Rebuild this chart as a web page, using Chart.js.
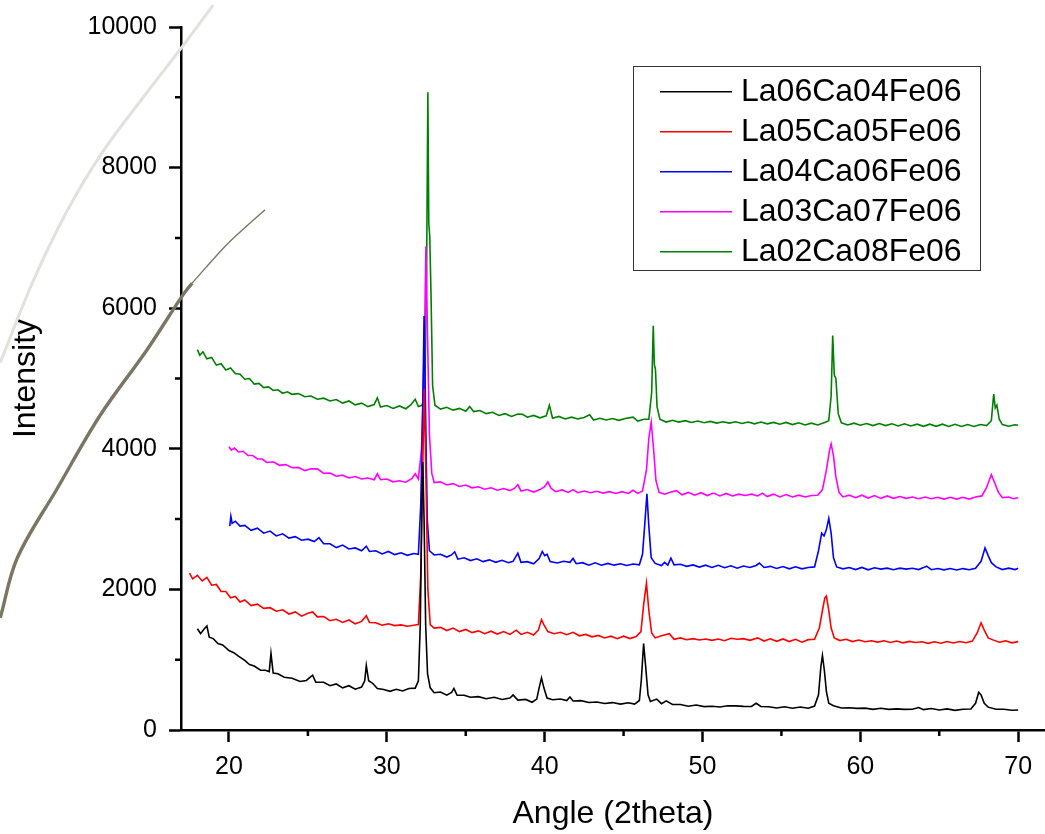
<!DOCTYPE html>
<html>
<head>
<meta charset="utf-8">
<title>XRD patterns</title>
<script src="https://cdn.jsdelivr.net/npm/chart.js@4.4.1/dist/chart.umd.min.js"></script>
<style>
    html, body { margin: 0; padding: 0; background: #fff; }
    canvas { display: block; }
</style>
</head>
<body>
<canvas id="xrdChart" width="1045" height="834"></canvas>
<script>
// sample names and colours, in legend order
const sampleNames = ['La06Ca04Fe06', 'La05Ca05Fe06', 'La04Ca06Fe06', 'La03Ca07Fe06', 'La02Ca08Fe06'];
const sampleColors = ['#000000', '#ff0000', '#0000ff', '#ff00ff', '#008000'];

// [2theta, intensity]
const la06 = [[18.0,1440],[18.2,1370],[18.4,1430],[18.6,1480],[18.75,1320],[19.0,1300],[19.3,1230],[19.6,1210],[20.0,1130],[20.3,1100],[20.6,1050],[21.0,990],[21.3,930],[21.6,910],[22.0,850],[22.3,850],[22.55,830],[22.66,1090],[22.8,810],[23.1,800],[23.5,750],[24.0,735],[24.5,690],[24.9,705],[25.3,780],[25.5,680],[26.0,680],[26.4,630],[26.8,655],[27.2,600],[27.6,630],[28.0,580],[28.4,610],[28.6,700],[28.7,918],[28.85,700],[29.1,665],[29.4,590],[29.8,575],[30.2,550],[30.6,580],[31.0,555],[31.4,590],[31.8,595],[32.0,700],[32.12,1500],[32.22,3200],[32.28,3812],[32.36,3000],[32.46,1500],[32.58,800],[32.75,600],[33.0,530],[33.4,540],[33.8,495],[34.1,535],[34.25,590],[34.45,495],[34.9,495],[35.3,465],[35.8,475],[36.3,445],[36.8,465],[37.3,435],[37.8,455],[38.0,500],[38.3,425],[38.8,435],[39.2,395],[39.5,440],[39.65,600],[39.8,740],[39.95,600],[40.15,455],[40.5,430],[41.0,440],[41.4,418],[41.6,470],[41.8,412],[42.3,418],[42.8,392],[43.3,398],[43.8,378],[44.3,390],[44.8,368],[45.3,388],[45.7,368],[46.0,420],[46.12,700],[46.27,1230],[46.4,900],[46.55,500],[46.7,405],[47.1,440],[47.4,375],[47.7,415],[48.1,362],[48.6,362],[49.1,338],[49.6,356],[50.1,333],[50.6,338],[51.1,328],[51.6,345],[52.1,343],[52.6,336],[53.1,334],[53.4,380],[53.7,334],[54.2,330],[54.7,313],[55.2,330],[55.7,310],[56.2,326],[56.7,310],[57.1,340],[57.35,500],[57.5,900],[57.6,1060],[57.72,850],[57.85,550],[58.0,380],[58.3,345],[58.8,314],[59.3,316],[59.8,308],[60.3,311],[60.8,294],[61.3,310],[61.8,294],[62.3,301],[62.8,294],[63.3,296],[63.7,320],[64.0,290],[64.5,305],[65.0,284],[65.5,300],[66.0,280],[66.5,296],[67.0,298],[67.3,380],[67.5,537],[67.65,500],[67.85,380],[68.1,325],[68.6,295],[69.1,295],[69.6,280],[70.0,285]];

const la05 = [[17.5,2230],[17.7,2150],[18.0,2200],[18.3,2120],[18.6,2170],[18.9,2060],[19.2,2070],[19.5,1970],[19.8,1970],[20.1,1880],[20.4,1900],[20.7,1820],[21.0,1850],[21.4,1770],[21.8,1790],[22.2,1730],[22.6,1740],[23.0,1690],[23.4,1710],[23.8,1650],[24.2,1680],[24.6,1620],[25.0,1660],[25.3,1680],[25.6,1610],[26.0,1615],[26.4,1555],[26.8,1575],[27.2,1530],[27.6,1565],[28.0,1510],[28.4,1545],[28.7,1625],[28.9,1530],[29.3,1525],[29.7,1490],[30.1,1510],[30.5,1485],[30.9,1495],[31.3,1475],[31.7,1490],[32.0,1500],[32.15,2200],[32.28,3800],[32.38,4850],[32.48,3600],[32.6,2000],[32.75,1500],[33.0,1450],[33.4,1460],[33.8,1415],[34.2,1450],[34.6,1400],[35.0,1430],[35.4,1385],[35.8,1410],[36.2,1370],[36.6,1405],[37.0,1365],[37.4,1400],[37.8,1360],[38.2,1420],[38.5,1360],[38.9,1390],[39.3,1350],[39.6,1420],[39.8,1570],[39.95,1500],[40.2,1400],[40.6,1370],[41.0,1390],[41.4,1355],[41.8,1390],[42.2,1340],[42.6,1360],[43.0,1325],[43.4,1345],[43.8,1310],[44.2,1335],[44.6,1298],[45.0,1335],[45.4,1300],[45.8,1330],[46.1,1400],[46.28,1800],[46.45,2090],[46.6,1700],[46.78,1380],[47.0,1310],[47.4,1340],[47.9,1370],[48.2,1290],[48.6,1310],[49.0,1285],[49.4,1300],[49.8,1280],[50.2,1295],[50.6,1275],[51.0,1295],[51.4,1270],[51.8,1305],[52.2,1290],[52.6,1300],[53.0,1275],[53.5,1310],[53.9,1265],[54.3,1298],[54.7,1262],[55.1,1295],[55.5,1258],[55.9,1290],[56.3,1250],[56.7,1285],[57.1,1290],[57.4,1450],[57.6,1700],[57.75,1880],[57.85,1906],[58.0,1700],[58.15,1450],[58.35,1310],[58.7,1272],[59.1,1290],[59.5,1258],[59.9,1280],[60.3,1255],[60.7,1270],[61.1,1250],[61.5,1270],[61.9,1245],[62.3,1265],[62.7,1240],[63.1,1260],[63.5,1245],[63.9,1255],[64.3,1232],[64.7,1255],[65.1,1235],[65.5,1258],[65.9,1238],[66.3,1258],[66.7,1242],[67.1,1265],[67.4,1380],[67.65,1525],[67.85,1420],[68.1,1310],[68.4,1282],[68.8,1248],[69.2,1268],[69.6,1240],[70.0,1257]];

const la04 = [[20.05,2900],[20.12,3040],[20.2,2940],[20.4,2970],[20.7,2900],[21.0,2910],[21.4,2840],[21.8,2870],[22.2,2800],[22.6,2830],[23.0,2760],[23.4,2790],[23.8,2730],[24.2,2750],[24.6,2700],[25.0,2715],[25.4,2680],[25.7,2735],[26.0,2650],[26.4,2650],[26.8,2595],[27.2,2630],[27.6,2575],[28.0,2590],[28.4,2550],[28.7,2615],[28.9,2540],[29.3,2550],[29.7,2505],[30.1,2540],[30.5,2495],[30.9,2520],[31.3,2485],[31.7,2510],[32.0,2500],[32.15,3200],[32.28,4600],[32.36,5890],[32.45,4600],[32.56,3000],[32.7,2550],[33.0,2490],[33.4,2500],[33.8,2460],[34.1,2490],[34.3,2535],[34.5,2430],[34.9,2450],[35.3,2410],[35.7,2435],[36.1,2395],[36.5,2420],[36.9,2385],[37.3,2415],[37.7,2380],[38.0,2400],[38.3,2515],[38.5,2385],[38.9,2395],[39.3,2365],[39.65,2440],[39.85,2540],[40.0,2480],[40.15,2500],[40.35,2395],[40.8,2375],[41.2,2400],[41.6,2385],[41.8,2440],[42.0,2365],[42.4,2380],[42.8,2345],[43.2,2378],[43.6,2345],[44.0,2370],[44.4,2345],[44.8,2365],[45.2,2340],[45.6,2362],[46.0,2350],[46.2,2500],[46.35,2950],[46.48,3360],[46.6,2900],[46.75,2450],[47.0,2370],[47.4,2340],[47.6,2385],[47.8,2345],[48.0,2445],[48.2,2350],[48.6,2358],[49.0,2328],[49.4,2348],[49.8,2318],[50.2,2345],[50.6,2312],[51.0,2342],[51.4,2308],[51.8,2336],[52.2,2302],[52.6,2332],[53.0,2312],[53.4,2340],[53.6,2375],[53.9,2312],[54.3,2328],[54.7,2298],[55.1,2325],[55.5,2292],[55.9,2322],[56.3,2292],[56.7,2312],[57.1,2320],[57.35,2550],[57.55,2800],[57.7,2760],[57.85,2850],[58.0,3010],[58.15,2800],[58.3,2450],[58.5,2320],[58.9,2292],[59.3,2312],[59.7,2282],[60.1,2312],[60.5,2278],[60.9,2308],[61.3,2288],[61.7,2302],[62.1,2280],[62.5,2302],[62.9,2288],[63.3,2300],[63.7,2282],[64.0,2310],[64.2,2330],[64.5,2280],[64.9,2298],[65.3,2278],[65.7,2298],[66.1,2276],[66.5,2296],[66.9,2280],[67.3,2300],[67.65,2400],[67.9,2590],[68.1,2480],[68.3,2380],[68.6,2320],[69.0,2282],[69.4,2302],[69.8,2282],[70.0,2300]];

const la03 = [[20.0,4030],[20.15,3980],[20.35,4010],[20.6,3955],[20.9,3965],[21.2,3905],[21.5,3905],[21.8,3855],[22.1,3855],[22.4,3805],[22.8,3815],[23.2,3765],[23.6,3775],[24.0,3730],[24.4,3735],[24.8,3690],[25.2,3715],[25.6,3715],[26.0,3650],[26.4,3655],[26.8,3610],[27.2,3625],[27.6,3585],[28.0,3605],[28.4,3570],[28.8,3585],[29.2,3560],[29.4,3645],[29.6,3560],[30.0,3570],[30.4,3530],[30.8,3545],[31.2,3525],[31.6,3580],[31.8,3645],[32.0,3570],[32.2,4000],[32.38,5500],[32.48,6880],[32.58,5600],[32.7,4200],[32.85,3650],[33.0,3520],[33.4,3530],[33.8,3485],[34.2,3505],[34.6,3465],[35.0,3485],[35.4,3445],[35.8,3460],[36.2,3425],[36.6,3445],[37.0,3410],[37.4,3435],[37.8,3405],[38.1,3440],[38.3,3490],[38.5,3400],[38.9,3420],[39.3,3385],[39.7,3420],[40.0,3460],[40.2,3530],[40.4,3440],[40.7,3390],[41.1,3415],[41.5,3380],[41.8,3420],[42.1,3375],[42.5,3400],[42.9,3375],[43.3,3395],[43.7,3370],[44.1,3390],[44.5,3365],[44.9,3390],[45.3,3365],[45.6,3410],[45.9,3365],[46.2,3400],[46.45,3700],[46.6,4150],[46.75,4380],[46.9,4000],[47.05,3550],[47.25,3380],[47.6,3355],[48.0,3385],[48.35,3405],[48.7,3345],[49.1,3380],[49.5,3340],[49.9,3375],[50.3,3335],[50.7,3370],[51.1,3330],[51.5,3365],[51.9,3330],[52.3,3355],[52.7,3335],[53.1,3355],[53.5,3330],[53.8,3370],[54.1,3320],[54.5,3355],[54.9,3315],[55.3,3350],[55.7,3315],[56.1,3340],[56.5,3315],[56.9,3335],[57.3,3340],[57.6,3420],[57.85,3700],[58.05,3980],[58.15,4070],[58.3,3900],[58.45,3600],[58.65,3380],[58.9,3315],[59.3,3340],[59.7,3305],[60.1,3340],[60.5,3300],[60.9,3335],[61.3,3295],[61.7,3330],[62.1,3295],[62.5,3320],[62.9,3295],[63.3,3315],[63.7,3290],[64.1,3315],[64.5,3290],[64.9,3310],[65.3,3285],[65.7,3310],[66.1,3285],[66.5,3310],[66.9,3285],[67.3,3315],[67.7,3330],[68.0,3450],[68.3,3630],[68.5,3520],[68.75,3380],[69.0,3305],[69.4,3315],[69.7,3290],[70.0,3304]];

const la02 = [[18.0,5410],[18.15,5330],[18.35,5380],[18.6,5280],[18.9,5300],[19.2,5190],[19.5,5210],[19.8,5120],[20.1,5150],[20.4,5070],[20.7,5060],[21.0,4990],[21.3,5000],[21.6,4920],[21.9,4930],[22.2,4870],[22.5,4880],[22.8,4830],[23.1,4840],[23.4,4790],[23.7,4810],[24.0,4775],[24.4,4785],[24.8,4740],[25.2,4750],[25.6,4705],[26.0,4720],[26.4,4680],[26.8,4700],[27.2,4650],[27.6,4680],[28.0,4625],[28.4,4650],[28.8,4600],[29.2,4630],[29.4,4725],[29.6,4595],[30.0,4615],[30.4,4575],[30.8,4610],[31.2,4570],[31.5,4620],[31.8,4705],[32.0,4600],[32.2,4615],[32.4,4700],[32.52,6500],[32.6,9070],[32.66,7200],[32.72,7020],[32.8,6200],[32.9,4900],[33.05,4620],[33.4,4565],[33.8,4590],[34.2,4550],[34.6,4575],[35.0,4535],[35.25,4600],[35.5,4530],[35.9,4545],[36.3,4500],[36.7,4520],[37.1,4475],[37.5,4500],[37.9,4460],[38.3,4495],[38.6,4490],[38.9,4450],[39.3,4475],[39.7,4440],[40.1,4470],[40.3,4620],[40.5,4435],[40.9,4460],[41.3,4425],[41.7,4450],[42.1,4425],[42.5,4445],[42.85,4485],[43.1,4410],[43.5,4435],[43.9,4410],[44.3,4430],[44.7,4405],[45.1,4430],[45.6,4450],[45.9,4395],[46.3,4420],[46.6,4420],[46.78,4800],[46.88,5750],[46.95,5200],[47.02,5130],[47.12,4600],[47.3,4420],[47.7,4380],[48.1,4405],[48.5,4380],[48.9,4400],[49.3,4375],[49.7,4395],[50.1,4370],[50.5,4390],[50.9,4365],[51.3,4385],[51.7,4365],[52.1,4385],[52.5,4360],[52.9,4380],[53.3,4355],[53.7,4380],[54.1,4355],[54.5,4375],[54.9,4350],[55.3,4375],[55.7,4345],[56.1,4370],[56.5,4340],[56.9,4365],[57.3,4340],[57.7,4370],[58.0,4400],[58.15,4750],[58.25,5610],[58.35,5050],[58.45,5000],[58.6,4500],[58.8,4370],[59.2,4340],[59.6,4365],[60.0,4335],[60.4,4360],[60.8,4330],[61.2,4360],[61.6,4330],[62.0,4355],[62.4,4325],[62.8,4355],[63.2,4325],[63.6,4350],[64.0,4320],[64.4,4350],[64.8,4320],[65.2,4350],[65.6,4318],[66.0,4348],[66.4,4318],[66.8,4345],[67.2,4318],[67.6,4345],[68.0,4330],[68.3,4400],[68.45,4780],[68.55,4580],[68.65,4620],[68.8,4420],[69.0,4345],[69.4,4322],[69.8,4342],[70.0,4335]];

// the two curved strokes over the left edge of the figure (listed top to bottom)
const curveLight = [[19.0,10311],[17.03,9717],[14.56,8997],[12.03,8234],[9.75,7387],[7.59,6384],[5.51,5226]];
const curveDark = [[17.66,6356],[17.03,6172],[14.81,5410],[11.84,4477],[9.11,3432],[6.58,2443],[5.51,1596]];
const curveDarkThin = [[22.28,7401],[19.87,6907],[17.66,6356]];

const xMinorTicks = [25, 35, 45, 55, 65];
const yMinorTicks = [1000, 3000, 5000, 7000, 9000];

Chart.defaults.font.family = '"Liberation Sans", Arial, sans-serif';
Chart.defaults.color = '#000';

// short unlabeled ticks between the labelled ones
const minorTicks = {
    id: 'minorTicks',
    afterDraw(chart) {
        const ctx = chart.ctx;
        const x = chart.scales.x;
        const y = chart.scales.y;
        ctx.save();
        ctx.strokeStyle = '#000';
        ctx.lineWidth = 2.5;
        ctx.beginPath();
        xMinorTicks.forEach(v => {
            const px = x.getPixelForValue(v);
            ctx.moveTo(px, y.bottom);
            ctx.lineTo(px, y.bottom + 6);
        });
        yMinorTicks.forEach(v => {
            const py = y.getPixelForValue(v);
            ctx.moveTo(x.left, py);
            ctx.lineTo(x.left - 6, py);
        });
        ctx.stroke();
        ctx.restore();
    }
};

// framed legend inside the plot, top right
const boxLegend = {
    id: 'boxLegend',
    afterDraw(chart, args, opts) {
        const { ctx, chartArea } = chart;
        const left = chartArea.left + opts.offsetX;
        const top = chartArea.top + opts.offsetY;
        ctx.save();
        ctx.fillStyle = '#fff';
        ctx.fillRect(left, top, opts.width, opts.height);
        ctx.strokeStyle = '#333';
        ctx.lineWidth = 1;
        ctx.strokeRect(left + 0.5, top + 0.5, opts.width, opts.height);
        ctx.font = '32px "Liberation Sans", Arial, sans-serif';
        ctx.textBaseline = 'middle';
        ctx.textAlign = 'left';
        sampleNames.forEach((name, i) => {
            const cy = top + opts.firstRow + i * opts.rowGap;
            ctx.strokeStyle = sampleColors[i];
            ctx.lineWidth = 1.5;
            ctx.beginPath();
            ctx.moveTo(left + 27, cy);
            ctx.lineTo(left + 99, cy);
            ctx.stroke();
            ctx.fillStyle = '#000';
            ctx.fillText(name, left + 108, cy);
        });
        ctx.restore();
    }
};

const scans = [la06, la05, la04, la03, la02];

const datasets = scans.map((d, i) => ({
    label: sampleNames[i],
    data: d,
    borderColor: sampleColors[i],
    borderWidth: 1.6,
    pointRadius: 0,
    tension: 0,
    fill: false
}));

datasets.push(
    { label: '', data: curveDarkThin, borderColor: '#7b7563', borderWidth: 1.4, pointRadius: 0, tension: 0.3, clip: false },
    { label: '', data: curveDark, borderColor: '#7b7563', borderWidth: 3.4, pointRadius: 0, tension: 0.35, clip: false },
    { label: '', data: curveLight, borderColor: '#e3e1dc', borderWidth: 3, pointRadius: 0, tension: 0.35, clip: false }
);

const ctx = document.getElementById('xrdChart').getContext('2d');
new Chart(ctx, {
    type: 'line',
    data: { datasets: datasets },
    options: {
        responsive: false,
        animation: false,
        events: [],
        layout: { padding: { top: 22, left: 0, right: 0, bottom: 0 } },
        plugins: {
            legend: { display: false },
            tooltip: { enabled: false },
            boxLegend: { offsetX: 452, offsetY: 39, width: 347, height: 204, firstRow: 25.7, rowGap: 40 }
        },
        scales: {
            x: {
                type: 'linear',
                min: 16.96,
                max: 71.7,
                afterFit: s => { s.height = 104; },
                ticks: {
                    stepSize: 10,
                    includeBounds: false,
                    autoSkip: false,
                    maxRotation: 0,
                    padding: 10,
                    font: { size: 25 },
                    callback: v => String(v)
                },
                grid: { drawOnChartArea: false, drawTicks: true, tickLength: 12, tickWidth: 2.5, tickColor: '#000' },
                border: { display: true, color: '#000', width: 2.5 },
                title: { display: true, text: 'Angle (2theta)', font: { size: 32 }, padding: { top: 0, bottom: 1 } }
            },
            y: {
                min: 0,
                max: 10000,
                afterFit: s => { s.width = 181; },
                ticks: {
                    stepSize: 2000,
                    padding: 12,
                    font: { size: 25 },
                    callback: v => String(v)
                },
                grid: { drawOnChartArea: false, drawTicks: true, tickLength: 12, tickWidth: 2.5, tickColor: '#000' },
                border: { display: true, color: '#000', width: 2.5 },
                title: { display: true, text: 'Intensity', font: { size: 32 }, padding: { top: 7, bottom: 0 } }
            }
        }
    },
    plugins: [minorTicks, boxLegend]
});
</script>
</body>
</html>
